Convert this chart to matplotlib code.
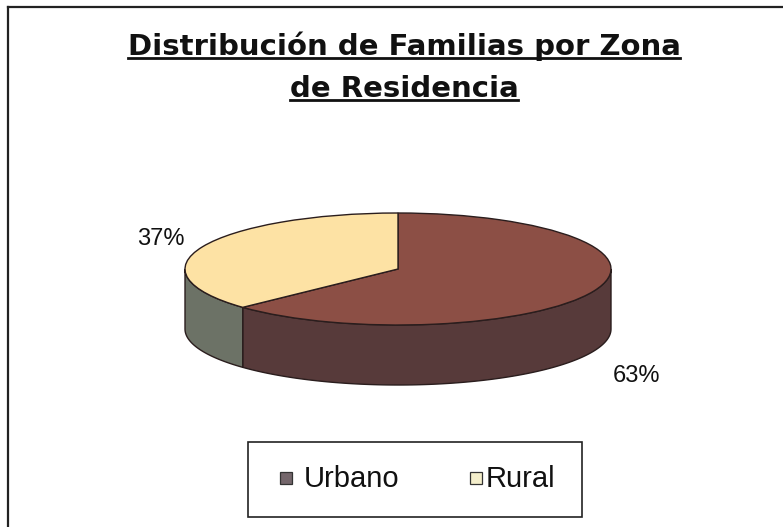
import matplotlib
matplotlib.use('Agg')
import matplotlib.pyplot as plt
import numpy as np
from matplotlib.patches import Polygon, Rectangle
from matplotlib.lines import Line2D

categories = ['Urbano', 'Rural']
values = [63, 37]
title_lines = ['Distribución de Familias por Zona', 'de Residencia']

top_colors = ['#8c4f45', '#fde2a4']
side_colors = ['#573a3a', '#6c7266']
legend_colors = ['#74666b', '#f4eecb']
edge = '#2a1d1d'

W, H = 783, 527
fig = plt.figure(figsize=(W / 100, H / 100), dpi=100)
fig.patch.set_facecolor('white')


def fx(px):
    return px / W


def fy(py):
    return 1 - py / H


# ---- frame (only top/left visible in the scan)
fig.add_artist(Line2D([fx(8), fx(8)], [fy(7), fy(530)], color='#222222', lw=1.6))
fig.add_artist(Line2D([fx(8), fx(790)], [fy(7), fy(7)], color='#222222', lw=1.6))

# ---- pie axes, aspect squashed into an ellipse
cx, cy, a, b, depth = 398, 269, 213, 56, 60
xl = (-1.15, 1.15)
yl = (-2.3, 1.25)
left = cx + xl[0] * a
right = cx + xl[1] * a
top = cy - yl[1] * b
bottom = cy - yl[0] * b
ax = fig.add_axes([fx(left), fy(bottom), (right - left) / W, (bottom - top) / H])

total = float(sum(values))
d = depth / b

# slice angular ranges (clockwise from 12 o'clock)
ranges = []
ang = 90.0
for v in values:
    end = ang - 360.0 * v / total
    ranges.append((end, ang))
    ang = end

# sides: visible front half (-180..0 degrees)
for (t1, t2), col in zip(ranges, side_colors):
    vis_lo = max(t1, -180.0)
    vis_hi = min(t2, 0.0)
    if vis_hi <= vis_lo:
        continue
    t = np.radians(np.linspace(vis_lo, vis_hi, 120))
    xs = np.concatenate([np.cos(t), np.cos(t[::-1])])
    ys = np.concatenate([np.sin(t), np.sin(t[::-1]) - d])
    ax.add_patch(Polygon(np.column_stack([xs, ys]), closed=True, facecolor=col,
                         edgecolor=edge, lw=1.0, zorder=1))

wedges, _ = ax.pie(values, startangle=90, counterclock=False, colors=top_colors,
                   wedgeprops=dict(edgecolor=edge, linewidth=1.0))
for w in wedges:
    w.set_zorder(2)
ax.set_aspect('auto')
ax.set_xlim(*xl)
ax.set_ylim(*yl)
ax.axis('off')

# percentage labels
pct_pos = {'Urbano': ((636 - cx) / a, (cy - 376) / b), 'Rural': ((161 - cx) / a, (cy - 239) / b)}
for cat, v in zip(categories, values):
    px, py = pct_pos[cat]
    ax.text(px, py, f'{round(100 * v / total)}%', ha='center', va='center',
            fontsize=17, family='Liberation Sans', color='#111111')

# ---- title with underline
tx = 404
baselines = [55, 97]
title_texts = []
for line, by in zip(title_lines, baselines):
    t = fig.text(fx(tx), fy(by), line, ha='center', va='baseline', fontsize=21,
                 fontweight='bold', family='DejaVu Sans', color='#111111')
    title_texts.append((t, by))

fig.canvas.draw()
r = fig.canvas.get_renderer()
for t, by in title_texts:
    bb = t.get_window_extent(renderer=r)
    uy = fy(by + 2.5)
    fig.add_artist(Line2D([bb.x0 / W, bb.x1 / W], [uy, uy], color='#111111', lw=2.0))

# ---- legend (drawn as a boxed key)
fig.add_artist(Rectangle((fx(248), fy(517)), (582 - 248) / W, (517 - 442) / H,
                         facecolor='white', edgecolor='#222222', lw=1.2))
sq_x = [280, 470]
txt_x = [304, 486]
for cat, col, sx, tx_ in zip(categories, legend_colors, sq_x, txt_x):
    fig.add_artist(Rectangle((fx(sx), fy(484)), 12 / W, 12 / H, facecolor=col,
                             edgecolor='#333333', lw=0.9))
    fig.text(fx(tx_), fy(479), cat, ha='left', va='center', fontsize=21,
             family='Liberation Sans', color='#111111')

fig.savefig('out.png', dpi=100, facecolor='white')
